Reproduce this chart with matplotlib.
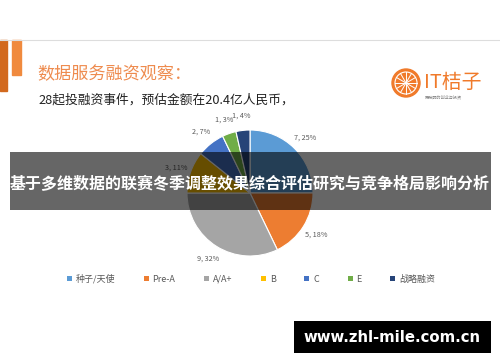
import math
import matplotlib
matplotlib.use('Agg')
import matplotlib.pyplot as plt
from matplotlib.patches import Rectangle, Circle

plt.rcParams['font.family'] = ['Noto Sans CJK SC', 'DejaVu Sans']

# data
rounds = ["种子/天使", "Pre-A", "A/A+", "B", "C", "E", "战略融资"]
counts = [7, 5, 9, 3, 2, 1, 1]
shares = [25, 18, 32, 11, 7, 3, 4]
colors = ["#5B9BD5", "#ED7D31", "#A5A5A5", "#FFC000", "#4472C4", "#70AD47", "#264478"]

title = "数据服务融资观察："
subtitle = "28起投融资事件，预估金额在20.4亿人民币，"
banner = "基于多维数据的联赛冬季调整效果综合评估研究与竞争格局影响分析"
watermark = "www.zhl-mile.com.cn"

W, H = 500, 362
fig = plt.figure(figsize=(5, 3.62), dpi=100)
ax = fig.add_axes([0, 0, 1, 1])

def Y(y):
    return H - y

labels = [f"{c}, {s}%" for c, s in zip(counts, shares)]
wedges, texts = ax.pie(counts, colors=colors, startangle=90, counterclock=False,
                       center=(250, Y(193)), radius=63, labels=labels,
                       labeldistance=1.24,
                       wedgeprops=dict(edgecolor='white', linewidth=0.8),
                       textprops=dict(fontsize=5.2, color='#595959'))
for t in texts:
    t.set_horizontalalignment('center')
ax.set_xlim(0, W)
ax.set_ylim(0, H)
ax.set_aspect('auto')
ax.axis('off')

# header decoration
ax.plot([0, W], [Y(40), Y(40)], color='#DDDDDD', lw=0.8)
ax.add_patch(Rectangle((0, Y(91)), 7, 51, color='#D2691E'))
ax.add_patch(Rectangle((12, Y(75)), 9, 35, color='#F08A3E'))
ax.text(37, Y(74), title, fontsize=12.3, color='#EE8B4E', va='center', ha='left')
ax.text(38, Y(100), subtitle, fontsize=9.2, color='#222222', va='center', ha='left')

# logo
ax.add_patch(Circle((406, Y(83)), 14, color='#F07A2A'))
ax.add_patch(Circle((406, Y(83)), 11, facecolor='none', edgecolor='white', lw=0.8))
for a in range(0, 180, 30):
    dx, dy = 11 * math.cos(math.radians(a)), 11 * math.sin(math.radians(a))
    ax.plot([406 - dx, 406 + dx], [Y(83) - dy, Y(83) + dy], color='white', lw=0.7)
ax.text(424, Y(82), "IT桔子", fontsize=14.3, color='#F07A2A', va='center', ha='left')
ax.text(425, Y(97), "更聪明的创业与投资", fontsize=3, color='#888888', va='center', ha='left')

# legend
leg = ax.legend(wedges, rounds, loc='center', bbox_to_anchor=(251 / W, 1 - 279 / H),
                ncol=7, frameon=False, fontsize=6.5, handlelength=0.55, handleheight=0.55,
                handletextpad=0.4, columnspacing=3.2, labelcolor='#595959')
for h in leg.legend_handles:
    h.set_edgecolor('none')

# overlay banner
ax.add_patch(Rectangle((10, Y(210)), 481, 58, facecolor='black', alpha=0.6, zorder=5))
ax.text(250, Y(184), banner, fontsize=11.5, fontweight='bold', color='white',
        ha='center', va='center', zorder=6)

# watermark
ax.add_patch(Rectangle((294, Y(353)), 197, 32, facecolor='black', zorder=5))
ax.text(392, Y(337), watermark, fontsize=10.7, fontweight='bold', color='white',
        ha='center', va='center', zorder=6, family='DejaVu Sans')

fig.savefig('out.png', dpi=100)
